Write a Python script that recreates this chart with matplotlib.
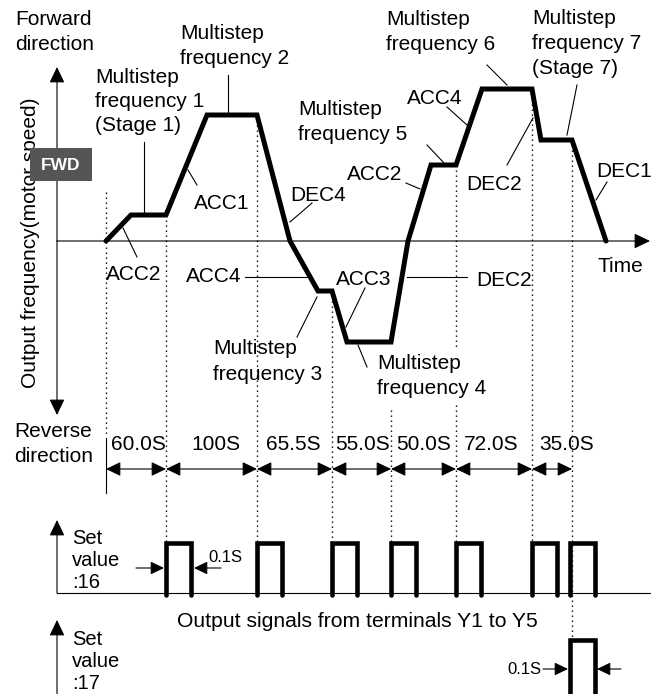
import matplotlib
matplotlib.use('Agg')
import matplotlib.pyplot as plt
from matplotlib.patches import Rectangle

plt.rcParams['font.family'] = ['Liberation Sans', 'DejaVu Sans']

# ---------------- data (schematic diagram units) ----------------
stage_marks = [106, 166, 257, 332, 391, 456, 532, 572]          # stage change times
durations = ['60.0S', '100S', '65.5S', '55.0S', '50.0S', '72.0S', '35.0S']
profile_t = [106, 131, 166, 207, 257, 290, 318, 332, 347, 391, 408, 431, 456, 482, 532, 541, 572, 606]
profile_f = [0, 26, 26, 126, 126, 0, -50, -50, -101, -101, 0, 76, 76, 152, 152, 101, 101, 0]
pulse16_starts = [166, 257, 332, 391, 456, 532, 570]
pulse17_starts = [570]
pulse_width = 25

W, H = 651, 694
Z = 241  # pixel row of zero frequency


def Y(py):
    return Z - py


fig = plt.figure(figsize=(W / 100, H / 100), dpi=100)
ax = fig.add_axes([0, 0, 1, 1])
ax.set_xlim(0, W)
ax.set_ylim(Y(H), Y(0))
ax.axis('off')

K = 'black'
THIN = 0.8
FS = 15


def arrow(x0, y0, x1, y1, style='-|>', ms=13):
    ax.annotate('', xy=(x1, Y(y1)), xytext=(x0, Y(y0)),
                arrowprops=dict(arrowstyle=style + ',head_length=0.75,head_width=0.36',
                                color=K, lw=THIN, mutation_scale=ms,
                                shrinkA=0, shrinkB=0))


def line(x0, y0, x1, y1, **kw):
    ax.plot([x0, x1], [Y(y0), Y(y1)], color=K, lw=kw.pop('lw', THIN), **kw)


def mtext(x, y_first, lines, spacing=25, fs=FS, **kw):
    for i, s in enumerate(lines):
        ax.text(x, Y(y_first + i * spacing), s, fontsize=fs, ha=kw.get('ha', 'left'),
                va='baseline', color=K, zorder=kw.get('zorder', 3))


# ---------------- axes ----------------
arrow(57, 241, 57, 67)
arrow(57, 241, 57, 415)
arrow(57, 241, 650, 241)

# ---------------- dotted stage markers ----------------
dot_top = {106: 192, 391: 410}
dot_bottom = {106: 435, 572: 640}
for t in stage_marks:
    if t in dot_top:
        top = dot_top[t]
    else:
        idx = max(i for i, pt in enumerate(profile_t) if pt <= t)
        top = Z - profile_f[idx]
    bot = dot_bottom.get(t, 543)
    ax.plot([t, t], [Y(top), Y(bot)], color=K, lw=1.0, ls=(0, (1, 2.6)), zorder=1)

# ---------------- frequency profile ----------------
ax.plot(profile_t, profile_f, color=K, lw=3.6, solid_joinstyle='miter',
        solid_capstyle='round', zorder=4)

# ---------------- durations ----------------
line(106, 438, 106, 493)
for i, lab in enumerate(durations):
    a, b = stage_marks[i], stage_marks[i + 1]
    arrow(a, 469, b, 469, style='<|-|>', ms=12)
dur_cx = [138, 216, 293, 363, 424, 491, 567]
for cx, lab in zip(dur_cx, durations):
    ax.text(cx, Y(450), lab, fontsize=FS, ha='center', va='baseline', color=K)

# ---------------- pulse rows ----------------
base16, top16 = 593, 543
ax.plot([57, 651], [Y(base16), Y(base16)], color=K, lw=THIN, zorder=2)
arrow(57, base16, 57, 520)
for s in pulse16_starts:
    ax.plot([s, s, s + pulse_width, s + pulse_width],
            [Y(base16 + 2), Y(top16), Y(top16), Y(base16 + 2)], color=K, lw=3.3,
            solid_joinstyle='miter', solid_capstyle='round', zorder=4)

top17 = 640
arrow(57, 700, 57, 620)
for s in pulse17_starts:
    ax.plot([s, s, s + pulse_width, s + pulse_width],
            [Y(700), Y(top17), Y(top17), Y(700)], color=K, lw=3.3,
            solid_joinstyle='miter', zorder=4)

# 0.1S width marks
arrow(136, 568, 164, 568, ms=11)
arrow(221, 568, 194, 568, ms=11)
ax.text(225, Y(562), '0.1S', fontsize=12, ha='center', va='baseline', color=K)
arrow(543, 669, 568, 669, ms=11)
arrow(621, 669, 597, 669, ms=11)
ax.text(524, Y(674), '0.1S', fontsize=12, ha='center', va='baseline', color=K)

mtext(72, 544, ['Set', 'value', ':16'], spacing=22, fs=14.5)
mtext(72, 645, ['Set', 'value', ':17'], spacing=22, fs=14.5)
ax.text(357, Y(627), 'Output signals from terminals Y1 to Y5', fontsize=15.2,
        ha='center', va='baseline', color=K)

# ---------------- labels ----------------
mtext(15, 25, ['Forward', 'direction'])
mtext(14, 437, ['Reverse', 'direction'])
ax.text(31, Y(243), 'Output frequency(motor speed)', fontsize=FS, rotation=90,
        ha='center', va='center', color=K)
ax.add_patch(Rectangle((30, Y(181)), 62, 33, facecolor='#555555', edgecolor='none', zorder=5))
ax.text(61, Y(165), 'FWD', fontsize=12.5, fontweight='bold', color='white',
        ha='center', va='center', zorder=6)

mtext(95, 83, ['Multistep', 'frequency 1', '(Stage 1)'], spacing=24)
mtext(180, 39, ['Multistep', 'frequency 2'])
mtext(298, 115, ['Multistep', 'frequency 5'])
mtext(386, 25, ['Multistep', 'frequency 6'])
mtext(532, 24, ['Multistep', 'frequency 7', '(Stage 7)'])
mtext(213, 354, ['Multistep', 'frequency 3'], spacing=26)
for s, by in (('Multistep', 369), ('frequency 4', 394)):
    ax.text(377, Y(by), s, fontsize=FS, va='baseline', color=K, zorder=3,
            bbox=dict(facecolor='white', edgecolor='none', pad=4))

short_labels = [
    ('ACC1', 222, 209), ('ACC2', 134, 280), ('DEC4', 318, 201), ('ACC4', 214, 282),
    ('ACC3', 364, 285), ('DEC2', 504, 286), ('Time', 620, 272), ('ACC2', 375, 180),
    ('ACC4', 435, 104), ('DEC2', 494, 190), ('DEC1', 624, 177),
]
for s, cx, by in short_labels:
    ax.text(cx, Y(by), s, fontsize=FS, ha='center', va='baseline', color=K, zorder=3)

leaders = [
    (144, 142, 144, 213), (228, 75, 228, 113), (188, 170, 197, 185), (123, 228, 137, 257),
    (290, 222, 312, 203), (245, 277, 307, 277), (297, 337, 317, 297), (365, 288, 346, 327),
    (358, 345, 367, 367), (407, 277, 467, 277), (427, 145, 444, 163), (406, 183, 420, 189),
    (447, 107, 467, 125), (487, 65, 507, 85), (577, 85, 567, 135), (507, 165, 533, 118),
    (596, 200, 607, 182),
]
for x0, y0, x1, y1 in leaders:
    line(x0, y0, x1, y1, zorder=2)

fig.savefig('out.png', dpi=100)
